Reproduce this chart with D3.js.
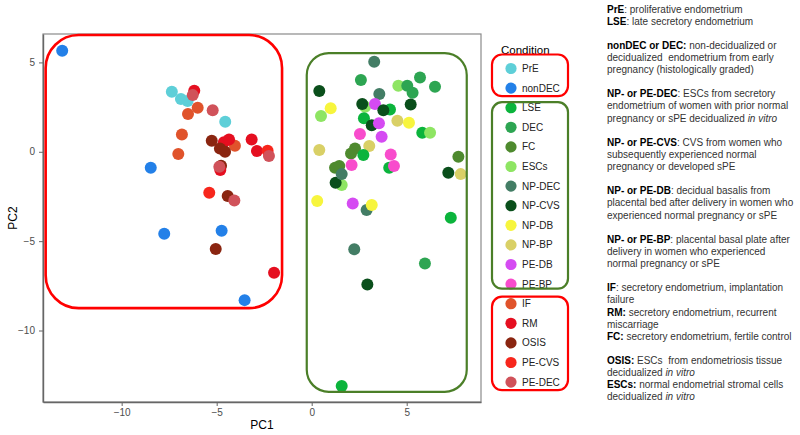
<!DOCTYPE html>
<meta charset="utf-8">
<style>
body { margin: 0; background: #fff; }
svg text { font-family: "Liberation Sans", Arial, sans-serif; }
.axis line { stroke: #666; }
.axis path { stroke: #666; stroke-width: 1.4; }
.axis text { fill: #4d4d4d; font-size: 10px; }
</style>
<script src="https://d3js.org/d3.v7.min.js"></script>
<body>
<script>
// legend order and colours
const conditions = ['PrE', 'nonDEC', 'LSE', 'DEC', 'FC', 'ESCs', 'NP-DEC', 'NP-CVS',
  'NP-DB', 'NP-BP', 'PE-DB', 'PE-BP', 'IF', 'RM', 'OSIS', 'PE-CVS', 'PE-DEC'];
const conditionColors = ['#5ecfd8', '#2380e8', '#0bb43c', '#2da552', '#4e8a2e', '#8ee563',
  '#437d65', '#0a4f1b', '#f7f53d', '#d9d066', '#d54bf2', '#f84ccc', '#e0532b', '#e50f20',
  '#8a2510', '#f7261c', '#d0525a'];

// samples, in drawing order
const sampleCond = [
  'nonDEC', 'PrE', 'PrE', 'PrE', 'RM', 'PE-DEC', 'IF', 'IF', 'PE-DEC', 'PrE', 'IF', 'IF', 'nonDEC',
  'IF', 'RM', 'RM', 'OSIS', 'OSIS', 'OSIS', 'RM', 'RM', 'PE-CVS', 'PE-DEC', 'OSIS', 'RM', 'PE-DEC',
  'PE-CVS', 'OSIS', 'PE-DEC', 'nonDEC', 'nonDEC', 'OSIS', 'RM', 'nonDEC',
  'NP-DEC', 'DEC', 'NP-CVS', 'DEC', 'ESCs', 'DEC', 'DEC', 'DEC', 'NP-DEC', 'ESCs', 'NP-CVS', 'PE-DB',
  'LSE', 'NP-CVS', 'NP-CVS', 'NP-DB', 'ESCs', 'LSE', 'NP-CVS', 'PE-DB', 'NP-BP', 'NP-DB', 'LSE', 'ESCs',
  'PE-BP', 'PE-DB', 'NP-BP', 'NP-BP', 'FC', 'FC', 'LSE', 'PE-BP', 'LSE', 'PE-BP', 'PE-BP', 'FC', 'FC',
  'ESCs', 'NP-CVS', 'NP-DEC', 'FC', 'NP-CVS', 'NP-BP', 'NP-DB', 'PE-DB', 'NP-DEC', 'NP-DB', 'LSE',
  'NP-DEC', 'DEC', 'NP-CVS', 'LSE'
];
const pc1 = [
  -13.13, -7.36, -6.88, -6.53, -6.18, -6.26, -6.0, -6.51, -5.21, -4.55, -6.83, -7.02, -8.47,
  -4.04, -4.62, -4.35, -5.26, -4.83, -4.56, -3.16, -2.88, -2.32, -2.25, -4.77, -4.81, -4.86,
  -5.39, -4.42, -4.07, -7.76, -4.74, -5.05, -1.98, -3.53,
  3.29, 2.59, 0.4, 5.7, 4.56, 5.03, 5.31, 6.49, 3.56, 2.81, 2.66, 3.33,
  4.12, 3.77, 5.21, 1.0, 0.49, 2.75, 3.16, 3.54, 4.51, 5.12, 5.82, 6.23,
  2.54, 3.68, 0.4, 3.03, 2.28, 2.07, 2.72, 4.16, 4.08, 4.33, 2.1, 1.23, 1.45,
  1.58, 1.26, 1.58, 7.72, 7.19, 7.84, 0.29, 2.16, 2.89, 3.16, 7.32,
  2.24, 5.96, 2.93, 1.58
];
const pc2 = [
  5.65, 3.36, 2.95, 2.84, 3.41, 3.17, 2.46, 2.11, 2.33, 1.68, 0.97, -0.13, -0.9,
  0.34, 0.54, 0.69, 0.62, 0.19, 0.0, 0.69, 0.04, 0.06, -0.24, -0.78, -1.02, -0.84,
  -2.29, -2.48, -2.72, -4.59, -4.42, -5.44, -6.77, -8.3,
  5.04, 4.01, 3.4, 4.16, 3.7, 3.7, 3.3, 3.64, 3.23, 2.52, 2.67, 2.67,
  2.37, 2.33, 2.65, 2.43, 2.0, 1.87, 1.49, 1.59, 1.73, 1.62, 1.06, 1.06,
  0.99, 0.84, 0.1, 0.32, 0.19, -0.09, -0.18, -0.15, -0.9, -0.8, -0.74, -0.9, -0.8,
  -1.86, -1.73, -1.25, -0.28, -1.17, -1.25, -2.76, -2.89, -3.26, -2.98, -3.69,
  -5.46, -6.25, -7.42, -13.11
];

// hand-drawn group outlines, in PC units: [x0, y0, x1, y1, radius px, colour]
const groupBoxes = [
  [-14.0, 6.53, -1.56, -8.75, 33, '#ff0000'],
  [-0.26, 5.52, 8.16, -13.43, 22, '#4b7f28']
];
// legend outlines: [first item, last item, pad above, pad below, colour]
const legendGroups = [
  [0, 1, 14, 8, '#ff0000'],
  [2, 11, 5.5, 4.5, '#4b7f28'],
  [12, 16, 7, 8, '#ff0000']
];

// side notes: [bold, normal, italic] pieces per line, null = blank line
const notes = [
  [['b', 'PrE'], ['n', ': proliferative endometrium']],
  [['b', 'LSE'], ['n', ': late secretory endometrium']],
  null,
  [['b', 'nonDEC or DEC:'], ['n', ' non-decidualized or']],
  [['n', 'decidualized\u00a0 endometrium from early']],
  [['n', 'pregnancy (histologically graded)']],
  null,
  [['b', 'NP- or PE-DEC'], ['n', ': ESCs from secretory']],
  [['n', 'endometrium of women with prior normal']],
  [['n', 'pregnancy or sPE decidualized '], ['i', 'in vitro']],
  null,
  [['b', 'NP- or PE-CVS'], ['n', ': CVS from women who']],
  [['n', 'subsequently experienced normal']],
  [['n', 'pregnancy or developed sPE']],
  null,
  [['b', 'NP- or PE-DB'], ['n', ': decidual basalis from']],
  [['n', 'placental bed after delivery in women who']],
  [['n', 'experienced normal pregnancy or sPE']],
  null,
  [['b', 'NP- or PE-BP'], ['n', ': placental basal plate after']],
  [['n', 'delivery in women who experienced']],
  [['n', 'normal pregnancy or sPE']],
  null,
  [['b', 'IF'], ['n', ': secretory endometrium, implantation']],
  [['n', 'failure']],
  [['b', 'RM:'], ['n', ' secretory endometrium, recurrent']],
  [['n', 'miscarriage']],
  [['b', 'FC:'], ['n', ' secretory endometrium, fertile control']],
  null,
  [['b', 'OSIS:'], ['n', ' ESCs\u00a0 from endometriosis tissue']],
  [['n', 'decidualized '], ['i', 'in vitro']],
  [['b', 'ESCs:'], ['n', ' normal endometrial stromal cells']],
  [['n', 'decidualized '], ['i', 'in vitro']]
];

const W = 800, H = 435;
const panel = { left: 43, right: 481, top: 34, bottom: 402 };

const svg = d3.select('body').append('svg')
  .attr('width', W)
  .attr('height', H);

const x = d3.scaleLinear().domain([-14.14, 8.91]).range([panel.left, panel.right]);
const y = d3.scaleLinear().domain([-14.0, 6.59]).range([panel.bottom, panel.top]);
const color = d3.scaleOrdinal().domain(conditions).range(conditionColors);

svg.append('rect')
  .attr('x', panel.left).attr('y', panel.top)
  .attr('width', panel.right - panel.left)
  .attr('height', panel.bottom - panel.top)
  .attr('fill', 'none')
  .attr('stroke', '#8a8a8a')
  .attr('stroke-width', 1.2);

svg.append('g')
  .attr('class', 'axis')
  .attr('transform', `translate(0, ${panel.bottom})`)
  .call(d3.axisBottom(x).tickValues([-10, -5, 0, 5]).tickSize(4).tickPadding(3).tickSizeOuter(0));

svg.append('g')
  .attr('class', 'axis')
  .attr('transform', `translate(${panel.left}, 0)`)
  .call(d3.axisLeft(y).tickValues([-10, -5, 0, 5]).tickSize(4).tickPadding(4).tickSizeOuter(0));

svg.append('text')
  .attr('x', (panel.left + panel.right) / 2)
  .attr('y', 429)
  .attr('text-anchor', 'middle')
  .style('font-size', '12px')
  .text('PC1');

svg.append('text')
  .attr('transform', `translate(13, ${(panel.top + panel.bottom) / 2}) rotate(-90)`)
  .attr('text-anchor', 'middle')
  .attr('dy', '0.35em')
  .style('font-size', '12px')
  .text('PC2');

// points
const samples = sampleCond.map((c, i) => ({ cond: c, pc1: pc1[i], pc2: pc2[i] }));
svg.append('g')
  .selectAll('circle')
  .data(samples)
  .enter()
  .append('circle')
    .attr('cx', d => x(d.pc1))
    .attr('cy', d => y(d.pc2))
    .attr('r', 6)
    .attr('fill', d => color(d.cond));

// group outlines over the plot
svg.append('g')
  .selectAll('rect')
  .data(groupBoxes)
  .enter()
  .append('rect')
    .attr('x', d => x(d[0]))
    .attr('y', d => y(d[1]))
    .attr('width', d => x(d[2]) - x(d[0]))
    .attr('height', d => y(d[3]) - y(d[1]))
    .attr('rx', d => d[4])
    .attr('fill', 'none')
    .attr('stroke', d => d[5])
    .attr('stroke-width', d => d[5] === '#ff0000' ? 2.6 : 2.2);

// legend
const legendTop = 68.5, legendStep = 19.6;
svg.append('text')
  .attr('x', 501)
  .attr('y', 54)
  .style('font-size', '11.5px')
  .text('Condition');

const legend = svg.append('g')
  .selectAll('g')
  .data(conditions)
  .enter()
  .append('g')
    .attr('transform', (d, i) => `translate(0, ${legendTop + i * legendStep})`);

legend.append('circle')
  .attr('cx', 511)
  .attr('r', 5.6)
  .attr('fill', d => color(d));

legend.append('text')
  .attr('x', 522)
  .attr('dy', '0.35em')
  .style('font-size', '10px')
  .style('fill', '#222')
  .text(d => d);

svg.append('g')
  .selectAll('rect')
  .data(legendGroups)
  .enter()
  .append('rect')
    .attr('x', 492)
    .attr('y', d => legendTop + d[0] * legendStep - d[2])
    .attr('width', 76)
    .attr('height', d => (d[1] - d[0]) * legendStep + d[2] + d[3])
    .attr('rx', 10)
    .attr('fill', 'none')
    .attr('stroke', d => d[4])
    .attr('stroke-width', 2.2);

// side notes
const noteTop = 9, noteStep = 12.12;
const noteLines = svg.append('g')
  .selectAll('text')
  .data(notes.map((n, i) => ({ parts: n, i })).filter(d => d.parts))
  .enter()
  .append('text')
    .attr('x', 607)
    .attr('y', d => noteTop + d.i * noteStep)
    .attr('dy', '0.35em')
    .style('font-size', '10px')
    .style('fill', '#333');

noteLines.selectAll('tspan')
  .data(d => d.parts)
  .enter()
  .append('tspan')
    .style('font-weight', p => p[0] === 'b' ? 'bold' : 'normal')
    .style('font-style', p => p[0] === 'i' ? 'italic' : 'normal')
    .style('fill', p => p[0] === 'b' ? '#000' : '#333')
    .text(p => p[1]);
</script>
</body>
</html>
